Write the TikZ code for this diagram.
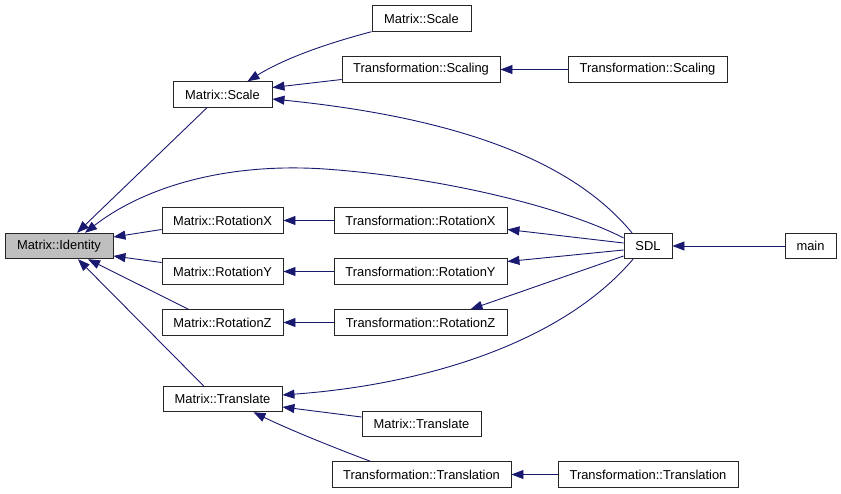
\documentclass[tikz,border=0pt]{standalone}
\usepackage{fontspec}
\setmainfont{Liberation Sans}
\usetikzlibrary{arrows.meta}
\definecolor{edgeblue}{RGB}{25,25,112}
\definecolor{idgray}{RGB}{191,191,191}
\tikzset{
  fbox/.style={draw=black!85, line width=0.9pt, fill=white, rectangle, inner sep=0pt,
    minimum height=25.5pt, font=\fontsize{12.9}{15}\selectfont},
  edge/.style={draw=edgeblue, line width=0.9pt, -{Triangle[length=12pt,width=9pt]}, fill=none},
}
\begin{document}
\begin{tikzpicture}[x=1pt,y=-1pt]
\useasboundingbox (0,0) rectangle (841,493);
% nodes
\node[fbox, fill=idgray, minimum width=108pt] (id) at (59,246) {Matrix::Identity};
\node[fbox, minimum width=99pt] (ms2) at (421.5,18.5) {Matrix::Scale};
\node[fbox, minimum width=99pt] (ms) at (222.5,94.5) {Matrix::Scale};
\node[fbox, minimum width=158pt] (ts1) at (421,69.5) {Transformation::Scaling};
\node[fbox, minimum width=159pt] (ts2) at (647.5,69.5) {Transformation::Scaling};
\node[fbox, minimum width=121pt] (rx) at (222.5,220.5) {Matrix::RotationX};
\node[fbox, minimum width=173pt] (trx) at (420.5,220.5) {Transformation::RotationX};
\node[fbox, minimum width=121pt] (ry) at (222.5,271.5) {Matrix::RotationY};
\node[fbox, minimum width=173pt] (try) at (420.5,271.5) {Transformation::RotationY};
\node[fbox, minimum width=121pt] (rz) at (222.5,322.5) {Matrix::RotationZ};
\node[fbox, minimum width=173pt] (trz) at (420.5,322.5) {Transformation::RotationZ};
\node[fbox, minimum width=48pt] (sdl) at (648,246) {SDL};
\node[fbox, minimum width=51pt] (main) at (810.5,246) {main};
\node[fbox, minimum width=119pt] (mt) at (222.5,399) {Matrix::Translate};
\node[fbox, minimum width=119pt] (mt2) at (421.5,424) {Matrix::Translate};
\node[fbox, minimum width=179pt] (tt) at (421.5,474.5) {Transformation::Translation};
\node[fbox, minimum width=180pt] (tt2) at (648,474.5) {Transformation::Translation};
% edges
\draw[edge] ([xshift=-15.5pt]ms.south) -- ([xshift=18pt]id.north);
\draw[edge] (ms2.south west) .. controls (340,40) and (290,55) .. ([xshift=25pt]ms.north);
\draw[edge] ([yshift=-10pt]ts1.west) -- ([yshift=7pt]ms.east);
\draw[edge] (ts2.west) -- (ts1.east);
\draw[edge] ([xshift=-16pt]sdl.north) .. controls (580,170) and (480,120) .. ([yshift=-4.5pt]ms.east);
\draw[edge] ([yshift=8pt]sdl.west) .. controls (570,210) and (450,178) .. (325,169)
  .. controls (220,162) and (140,190) .. ([xshift=26pt]id.north);
\draw[edge] ([yshift=-9pt]rx.west) -- ([yshift=9pt]id.east);
\draw[edge] ([yshift=9pt]ry.west) -- ([yshift=-10pt]id.east);
\draw[edge] ([xshift=-34pt]rz.north) -- ([xshift=29pt]id.south);
\draw[edge] ([xshift=-19pt]mt.north) -- ([xshift=19pt]id.south);
\draw[edge] (trx.west) -- (rx.east);
\draw[edge] (try.west) -- (ry.east);
\draw[edge] (trz.west) -- (rz.east);
\draw[edge] ([yshift=3pt]sdl.west) -- ([yshift=-9pt]trx.east);
\draw[edge] ([yshift=-4pt]sdl.west) -- ([yshift=10pt]try.east);
\draw[edge] ([yshift=-10pt]sdl.west) -- ([xshift=50pt]trz.north);
\draw[edge] ([xshift=-15pt]sdl.south) .. controls (560,345) and (420,385) .. ([yshift=4pt]mt.east);
\draw[edge] (main.west) -- (sdl.east);
\draw[edge] ([yshift=7pt]mt2.west) -- ([yshift=-8pt]mt.east);
\draw[edge] ([xshift=-51pt]tt.north) .. controls (340,450) and (290,430) .. ([xshift=31pt]mt.south);
\draw[edge] (tt2.west) -- (tt.east);
\end{tikzpicture}
\end{document}
